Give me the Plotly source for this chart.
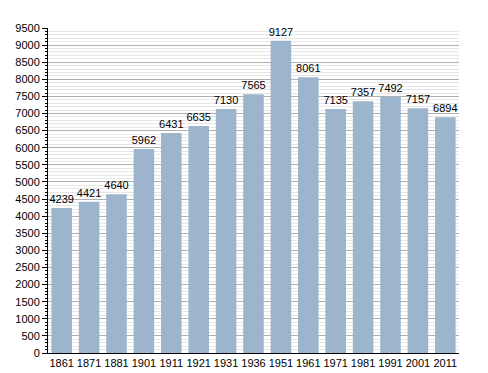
import plotly.graph_objects as go

years = ["1861", "1871", "1881", "1901", "1911", "1921", "1931", "1936",
         "1951", "1961", "1971", "1981", "1991", "2001", "2011"]
population = [4239, 4421, 4640, 5962, 6431, 6635, 7130, 7565,
              9127, 8061, 7135, 7357, 7492, 7157, 6894]
y_ticks = list(range(0, 9501, 500))

fig = go.Figure(go.Bar(
    x=years, y=population,
    marker=dict(color="#9db4cd", line=dict(width=0)),
    text=[str(v) for v in population],
    textposition="outside",
    textfont=dict(family="Liberation Sans, Arial, sans-serif", size=11, color="#000"),
    cliponaxis=False,
))

fig.update_layout(
    width=480, height=373,
    margin=dict(l=40, r=29, t=20, b=20),
    paper_bgcolor="white", plot_bgcolor="white",
    bargap=0.25,
    showlegend=False,
    uniformtext=dict(minsize=11, mode="show"),
    font=dict(family="Liberation Sans, Arial, sans-serif", size=11, color="#000"),
)
fig.update_xaxes(
    type="category", showline=True, linecolor="#000", linewidth=1,
    ticks="", showgrid=False, tickfont=dict(size=11),
)
fig.update_yaxes(
    range=[0, 9500], tickvals=y_ticks, ticktext=[str(v) for v in y_ticks],
    showline=True, linecolor="#000", linewidth=1,
    ticks="outside", ticklen=5, tickcolor="#000",
    showgrid=True, gridcolor="#b0b0b0", gridwidth=1,
    zeroline=False, automargin=False,
    minor=dict(dtick=100, showgrid=True, gridcolor="#e6e6e6", gridwidth=1,
               ticks="outside", ticklen=2, tickcolor="#000"),
    tickfont=dict(size=11),
)

fig.write_html("out.html")
